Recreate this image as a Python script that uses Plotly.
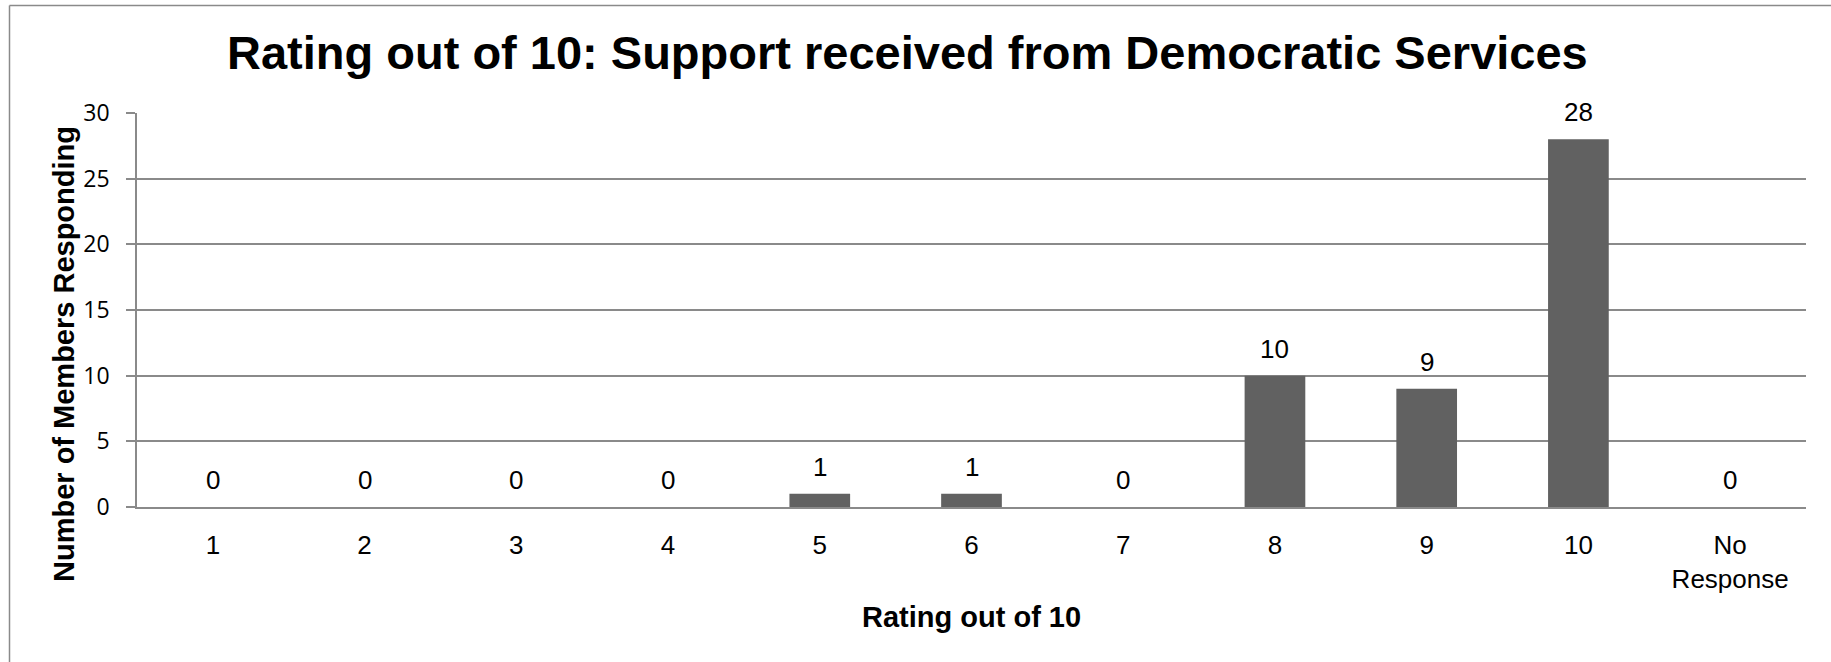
import plotly.graph_objects as go

categories = ["1", "2", "3", "4", "5", "6", "7", "8", "9", "10", "No<br>Response"]
values = [0, 0, 0, 0, 1, 1, 0, 10, 9, 28, 0]
y_ticks = [0, 5, 10, 15, 20, 25, 30]

title_text = "Rating out of 10: Support received from Democratic Services"
x_title = "Rating out of 10"
y_title = "Number of Members Responding"

W, H = 1831, 662
L, R, T, B = 137, 25, 113, 155
pw, ph = W - L - R, H - T - B

def px_x(x):
    return (x - L) / pw

def px_y(y):
    return (H - B - y) / ph

AR = "Liberation Sans, Arial, sans-serif"
GRID = "#8a8a8a"

fig = go.Figure()
fig.add_trace(go.Bar(
    x=categories, y=values,
    marker=dict(color="#616161", line=dict(width=0)),
    width=0.4, hoverinfo="skip",
))

annotations = []
for i, v in enumerate(values):
    annotations.append(dict(
        x=i, y=v, xref="x", yref="y", text=str(v), showarrow=False,
        yanchor="middle", xanchor="center", yshift=27,
        font=dict(family=AR, size=26, color="#000000"),
    ))

annotations.append(dict(
    x=px_x(907), y=px_y(53), xref="paper", yref="paper", text=title_text,
    showarrow=False, xanchor="center", yanchor="middle",
    font=dict(family=AR, size=47, color="#000000", weight="bold"),
))
annotations.append(dict(
    x=px_x(971), y=px_y(617), xref="paper", yref="paper", text=x_title,
    showarrow=False, xanchor="center", yanchor="middle",
    font=dict(family=AR, size=29, color="#000000", weight="bold"),
))
annotations.append(dict(
    x=px_x(64), y=px_y(354), xref="paper", yref="paper", text=y_title,
    showarrow=False, xanchor="center", yanchor="middle", textangle=-90,
    font=dict(family=AR, size=29, color="#000000", weight="bold"),
))

border = dict(color="#8a8a8a", width=1.5)
fig.update_layout(
    width=W, height=H,
    margin=dict(l=L, r=R, t=T, b=B, pad=0),
    paper_bgcolor="white", plot_bgcolor="white",
    showlegend=False,
    annotations=annotations,
    shapes=[
        dict(type="line", xref="paper", yref="paper",
             x0=px_x(9.5), x1=px_x(W + 20), y0=px_y(5.5), y1=px_y(5.5),
             line=border, layer="below"),
        dict(type="line", xref="paper", yref="paper",
             x0=px_x(9.5), x1=px_x(9.5), y0=px_y(5.5), y1=px_y(H + 20),
             line=border, layer="below"),
    ],
    xaxis=dict(
        type="category", showline=True, linecolor=GRID, linewidth=1.5,
        showgrid=False, ticks="", ticklabelstandoff=14,
        tickfont=dict(family=AR, size=26, color="#000000"),
        fixedrange=True,
    ),
    yaxis=dict(
        range=[0, 30], tickvals=y_ticks, showline=True, linecolor=GRID, linewidth=1.5,
        showgrid=True, gridcolor=GRID, gridwidth=1.5, zeroline=False,
        ticks="outside", ticklen=9, tickcolor=GRID, tickwidth=1.5,
        ticklabelstandoff=12,
        tickfont=dict(family="Open Sans, sans-serif", size=23, color="#000000"),
        fixedrange=True,
    ),
    bargap=0.6,
)

fig.write_html("out.html", config={"displayModeBar": False},
               post_script="document.body.style.margin='0';")
